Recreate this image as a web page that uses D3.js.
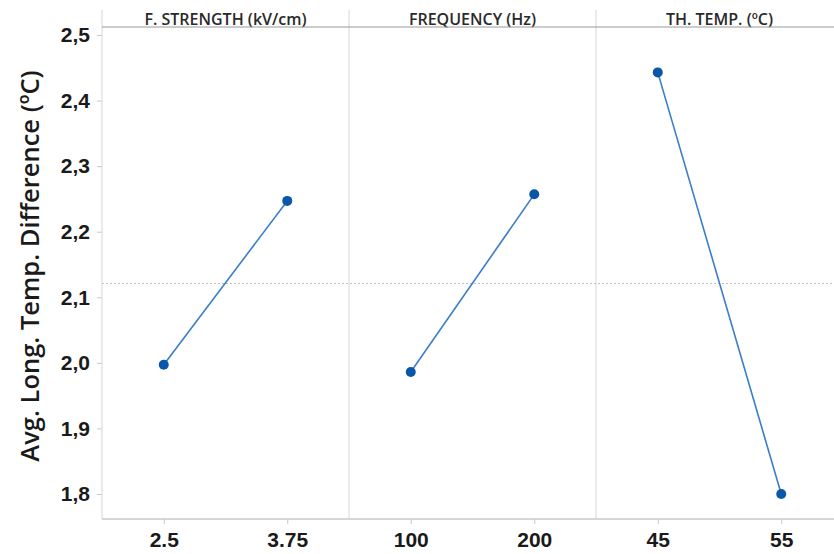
<!DOCTYPE html>
<html>
<head>
<meta charset="utf-8">
<script src="https://cdn.jsdelivr.net/npm/d3@7"></script>
<style>
  body { margin: 0; background: #fff; }
  svg { display: block; font-family: "Open Sans", "Noto Sans", sans-serif; }
</style>
</head>
<body>
<svg class="chart" width="834" height="554"></svg>
<script>
const width = 834;
const height = 554;

// main effects data
const factors = ["F. STRENGTH (kV/cm)", "FREQUENCY (Hz)", "TH. TEMP. (ºC)"];
const levels = [["2.5", "3.75"], ["100", "200"], ["45", "55"]];
const means = [[1.997, 2.247], [1.986, 2.257], [2.443, 1.800]];
const grandMean = 2.121;
const yTicks = [1.8, 1.9, 2.0, 2.1, 2.2, 2.3, 2.4, 2.5];

const svg = d3.select(".chart");

const plotLeft = 102;
const plotTop = 10;
const plotBottom = 519;
const panelW = 247;
const headerY = 27;

const y = d3.scaleLinear().domain([1.8, 2.5]).range([494, 35]);

// y axis
const yAxis = svg.append("g").attr("transform", `translate(${plotLeft},0)`)
  .call(d3.axisLeft(y).tickValues(yTicks).tickSize(5).tickPadding(7)
    .tickFormat(d => d3.format(".1f")(d).replace(".", ",")));
yAxis.select(".domain").remove();
yAxis.selectAll(".tick line").attr("stroke", "#c8c8c8");
yAxis.selectAll(".tick text").attr("font-size", 21).attr("fill", "#1a1a1a").attr("font-weight", 600);

svg.append("text")
  .attr("transform", `translate(39,266) rotate(-90)`)
  .attr("text-anchor", "middle")
  .attr("font-size", 25.5)
  .attr("font-weight", 600)
  .attr("fill", "#1a1a1a")
  .text("Avg. Long. Temp. Difference (ºC)");

// grand mean reference line
svg.append("line")
  .attr("x1", plotLeft).attr("x2", width)
  .attr("y1", y(grandMean)).attr("y2", y(grandMean))
  .attr("stroke", "#bdbdbd").attr("stroke-width", 1)
  .attr("stroke-dasharray", "2,2");

factors.forEach((f, i) => {
  const x0 = plotLeft + i * panelW;
  const x = d3.scalePoint().domain(levels[i]).range([x0, x0 + panelW]).padding(0.5);

  const g = svg.append("g");

  // header label
  g.append("text")
    .attr("x", x0 + panelW / 2)
    .attr("y", headerY - 2)
    .attr("text-anchor", "middle")
    .attr("font-size", 16)
    .attr("font-weight", 600)
    .attr("fill", "#2a2a2a")
    .text(f);

  // x axis
  const xa = g.append("g").attr("transform", `translate(0,${plotBottom})`)
    .call(d3.axisBottom(x).tickSize(5).tickPadding(8));
  xa.select(".domain").remove();
  xa.selectAll(".tick line").attr("stroke", "#c8c8c8");
  xa.selectAll(".tick text").attr("font-size", 21).attr("fill", "#1a1a1a").attr("font-weight", 600);

  const pts = levels[i].map((l, j) => [x(l), y(means[i][j])]);

  g.append("path")
    .attr("d", d3.line()(pts))
    .attr("fill", "none")
    .attr("stroke", "#3b7dc8")
    .attr("stroke-width", 1.6);

  g.selectAll("circle").data(pts).enter().append("circle")
    .attr("cx", d => d[0]).attr("cy", d => d[1])
    .attr("r", 5)
    .attr("fill", "#0a56a8");

  // panel divider
  if (i > 0) {
    svg.append("line")
      .attr("x1", x0).attr("x2", x0)
      .attr("y1", plotTop).attr("y2", plotBottom)
      .attr("stroke", "#d6d6d6");
  }
});

// frame lines
svg.append("line").attr("x1", plotLeft).attr("x2", plotLeft).attr("y1", plotTop).attr("y2", plotBottom)
  .attr("stroke", "#d6d6d6");
svg.append("line").attr("x1", plotLeft).attr("x2", width).attr("y1", headerY).attr("y2", headerY)
  .attr("stroke", "#9a9a9a").attr("stroke-width", 1.2);
svg.append("line").attr("x1", plotLeft).attr("x2", width).attr("y1", plotBottom).attr("y2", plotBottom)
  .attr("stroke", "#c8c8c8").attr("stroke-width", 1.5);
</script>
</body>
</html>
